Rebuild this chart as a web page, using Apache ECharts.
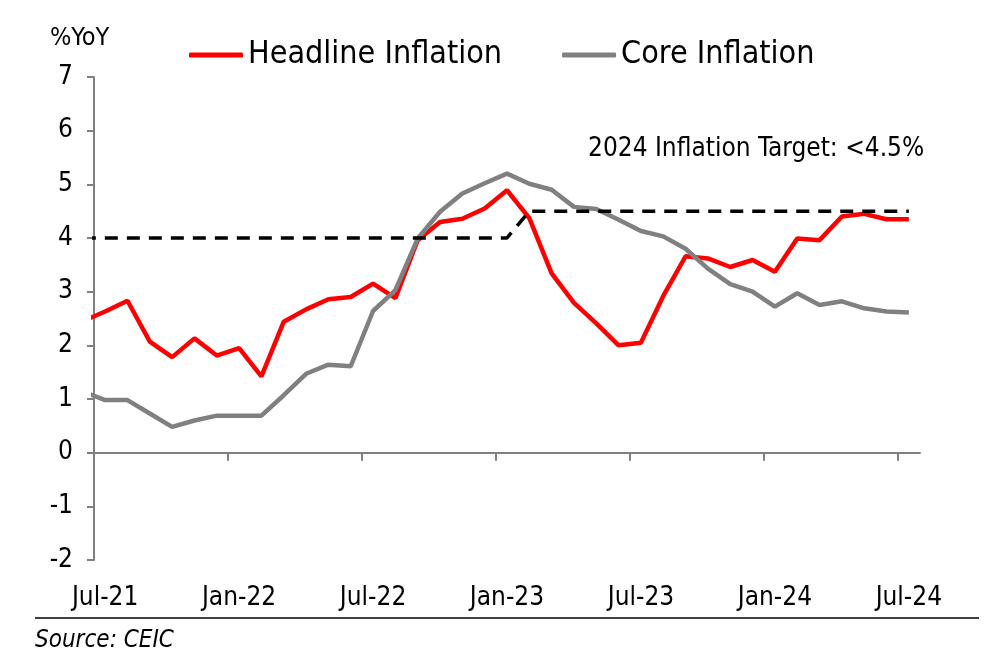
<!DOCTYPE html>
<html>
<head>
<meta charset="utf-8">
<script src="https://cdn.jsdelivr.net/npm/echarts@6/dist/echarts.min.js"></script>
<style>html,body{margin:0;padding:0;background:#fff}#c{width:1000px;height:665px}</style>
</head>
<body>
<div id="c"></div>
<script>
// Months from Jun-21 (partly clipped at the left edge) to Jul-24
var months = ['Jun-21','Jul-21','Aug-21','Sep-21','Oct-21','Nov-21','Dec-21','Jan-22','Feb-22','Mar-22','Apr-22','May-22','Jun-22',
  'Jul-22','Aug-22','Sep-22','Oct-22','Nov-22','Dec-22','Jan-23','Feb-23','Mar-23','Apr-23','May-23','Jun-23',
  'Jul-23','Aug-23','Sep-23','Oct-23','Nov-23','Dec-23','Jan-24','Feb-24','Mar-24','Apr-24','May-24','Jun-24','Jul-24'];
var headline = [2.45,2.63,2.83,2.07,1.78,2.13,1.81,1.95,1.42,2.44,2.67,2.86,2.90,
  3.15,2.88,3.96,4.30,4.36,4.55,4.89,4.37,3.34,2.79,2.41,2.00,
  2.05,2.92,3.66,3.62,3.46,3.59,3.37,3.99,3.96,4.40,4.45,4.35,4.35];
var core = [1.14,0.98,0.98,0.73,0.48,0.60,0.69,0.69,0.69,1.07,1.47,1.64,1.61,
  2.64,3.03,3.99,4.49,4.83,5.02,5.20,5.01,4.90,4.58,4.54,4.34,
  4.13,4.03,3.80,3.43,3.14,3.00,2.72,2.97,2.75,2.82,2.69,2.63,2.61];
var target = [4,4,4,4,4,4,4,4,4,4,4,4,4,
  4,4,4,4,4,4,4,4.5,4.5,4.5,4.5,4.5,
  4.5,4.5,4.5,4.5,4.5,4.5,4.5,4.5,4.5,4.5,4.5,4.5,4.5];
var yTicks = [-2,-1,0,1,2,3,4,5,6,7];
var labelMonths = ['Jul-21','Jan-22','Jul-22','Jan-23','Jul-23','Jan-24','Jul-24'];

function idx(m){ return months.indexOf(m) - 1; }
function pairs(arr){ return arr.map(function(v,k){ return [k-1, v]; }); }

var labelVals = labelMonths.map(idx);
var tickVals = labelVals.slice(1).map(function(v){ return v - 0.5; });

var FONT = 'DejaVu Sans Condensed';
var chart = echarts.init(document.getElementById('c'), null, {renderer:'canvas'});
chart.setOption({
  animation: false,
  backgroundColor: '#ffffff',
  grid: {left: 94, right: 80, top: 77, bottom: 105, containLabel: false},
  legend: {
    top: 34, left: 184, itemWidth: 54, itemHeight: 5, itemGap: 60,
    icon: 'roundRect',
    textStyle: {fontFamily: FONT, fontSize: 32, color: '#000', padding:[0,0,0,0]},
    data: ['Headline Inflation','Core Inflation']
  },
  xAxis: [{
    type: 'value', min: -0.5, max: 36.5,
    axisLine: {show: true, onZero: true, lineStyle: {color: '#808080', width: 2}},
    axisTick: {show: true, inside: false, length: 8, customValues: tickVals, lineStyle: {color: '#808080', width: 2}},
    axisLabel: {show: false},
    splitLine: {show: false}
  }, {
    type: 'value', min: -0.5, max: 36.5, position: 'bottom',
    axisLine: {show: false, onZero: false},
    axisTick: {show: false},
    splitLine: {show: false},
    axisLabel: {
      show: true, margin: 25, customValues: labelVals,
      fontFamily: FONT, fontSize: 26, color: '#000',
      formatter: function(v){ return months[Math.round(v)+1]; }
    }
  }],
  yAxis: {
    type: 'value', min: -2, max: 7, interval: 1,
    axisLine: {show: true, onZero: false, lineStyle: {color: '#808080', width: 2}},
    axisTick: {show: true, length: 7, lineStyle: {color: '#808080', width: 2}},
    axisLabel: {margin: 21, fontFamily: FONT, fontSize: 26, color: '#000',
      formatter: function(v){ return yTicks.indexOf(v) >= 0 ? String(v) : ''; }},
    splitLine: {show: false}
  },
  series: [{
    name: 'Headline Inflation', type: 'line', data: pairs(headline),
    xAxisIndex: 0, symbol: 'none', clip: true,
    lineStyle: {color: '#ff0000', width: 4.5}, itemStyle: {color: '#ff0000'}
  }, {
    name: 'Core Inflation', type: 'line', data: pairs(core),
    xAxisIndex: 0, symbol: 'none', clip: true,
    lineStyle: {color: '#808080', width: 4.5}, itemStyle: {color: '#808080'}
  }, {
    name: 'Target', type: 'line', data: pairs(target),
    xAxisIndex: 0, symbol: 'none', clip: true,
    lineStyle: {color: '#000000', width: 3.5, type: [13, 9]}, itemStyle: {color: '#000'}
  }],
  graphic: [
    {type: 'text', left: 50, top: 26, style: {text: '%YoY', font: '25px "' + FONT + '"', fill: '#000'}},
    {type: 'text', left: 588, top: 136, style: {text: '2024 Inflation Target: <4.5%', font: '26px "' + FONT + '"', fill: '#000'}},
    {type: 'line', shape: {x1: 35, y1: 618, x2: 979, y2: 618}, style: {stroke: '#000', lineWidth: 1.5}},
    {type: 'text', left: 35, top: 629, style: {text: 'Source: CEIC', font: 'italic 24px "' + FONT + '"', fill: '#000'}}
  ]
});
</script>
</body>
</html>
